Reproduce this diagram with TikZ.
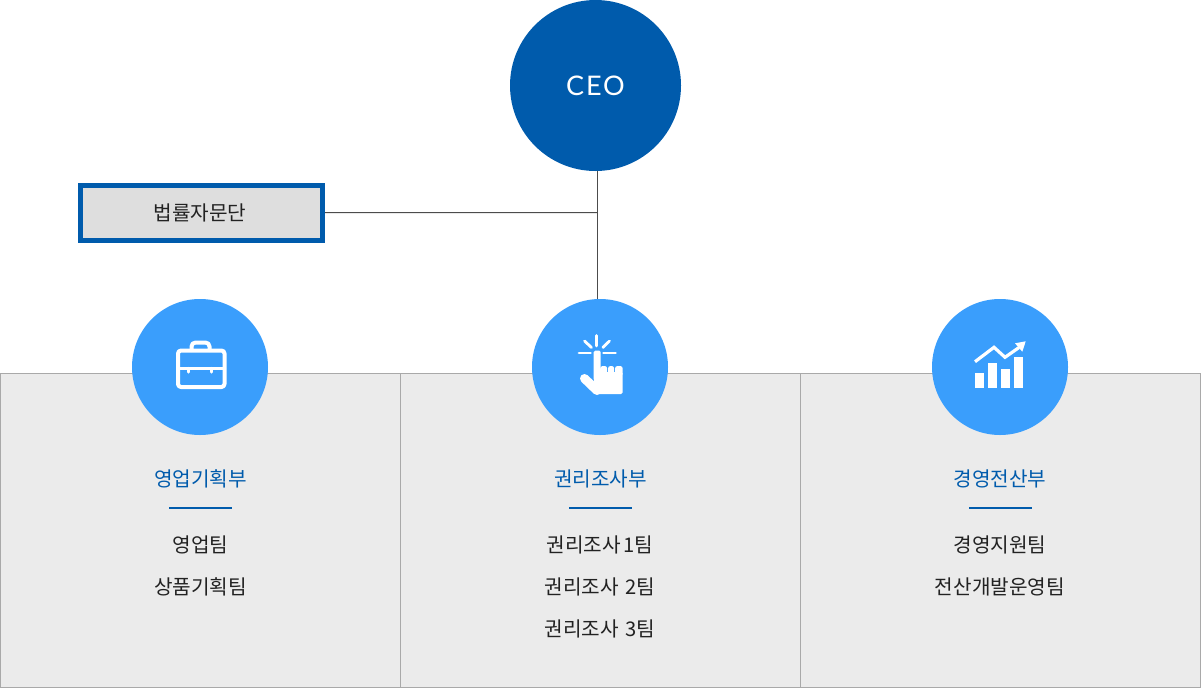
\documentclass[tikz,border=0pt]{standalone}
\usepackage{fontspec}
\setmainfont{Noto Sans CJK KR}
\newfontfamily\ceofont[LetterSpace=7]{Lato}
\definecolor{deepblue}{HTML}{005BAC}
\definecolor{skyblue}{HTML}{3A9EFC}
\definecolor{panelgray}{HTML}{EBEBEB}
\definecolor{boxgray}{HTML}{DEDEDE}
\definecolor{edgegray}{HTML}{A9A9A9}
\definecolor{inkgray}{HTML}{222222}
\tikzset{
  panel/.style={draw=edgegray,fill=panelgray,line width=1pt},
  deptcircle/.style={circle,fill=skyblue,minimum size=136pt,inner sep=0pt},
  depttitle/.style={text=deepblue,font=\fontsize{20.2pt}{24pt}\selectfont,inner sep=0pt},
  teamname/.style={text=inkgray,font=\fontsize{20.2pt}{24pt}\selectfont,inner sep=0pt},
  deptrule/.style={draw=deepblue,line width=2pt},
  conn/.style={draw=black!70,line width=1pt},
  iconline/.style={draw=white,line width=4pt,line cap=round,line join=round},
  rayline/.style={draw=white,line width=2.8pt,line cap=round}
}
\begin{document}
\begin{tikzpicture}[x=1pt,y=-1pt]
\useasboundingbox (0,0) rectangle (1201,688);
\foreach \x in {0,400,800}{
  \draw[panel] (\x+0.5,373.5) rectangle (\x+400.5,687.5);
}
\node[circle,fill=deepblue,minimum size=171pt,inner sep=0pt,text=white,font=\ceofont\fontsize{27pt}{30pt}\selectfont] (ceo) at (595.5,85.5) {CEO};
\node[draw=deepblue,fill=boxgray,line width=5pt,minimum width=242pt,minimum height=55pt,inner sep=0pt,text=inkgray,font=\fontsize{20.2pt}{24pt}\selectfont] (adviser) at (201.5,212.85) {법률자문단\kern3pt};
\node[deptcircle] (sales) at (200,367) {};
\node[deptcircle] (rights) at (600,367) {};
\node[deptcircle] (it) at (1000,367) {};
\coordinate (jct) at (597.5,212.5);
\draw[conn] (jct|-ceo.south) -- (jct|-rights.north);
\draw[conn] (adviser) -- (jct);
\node[depttitle] (salestitle) at (200.5,479) {영업기획부};
\node[depttitle] (rightstitle) at (600.5,479) {권리조사부};
\node[depttitle] (ittitle) at (1000,479) {경영전산부};
\draw[deptrule] (169,508) -- (232,508);
\draw[deptrule] (569,508) -- (632,508);
\draw[deptrule] (969,508) -- (1032,508);
\node[teamname] (team1) at (200.5,545) {영업팀};
\node[teamname] (team2) at (200.5,587) {상품기획팀};
\node[teamname] (team3) at (600,545) {권리조사 \kern-2pt1팀};
\node[teamname] (team4) at (600,587) {권리조사 \kern2pt2팀};
\node[teamname] (team5) at (600,629) {권리조사 \kern2pt3팀};
\node[teamname] (team6) at (1000,545) {경영지원팀};
\node[teamname] (team7) at (1000,587) {전산개발운영팀};
\draw[iconline,rounded corners=3pt] (178,350.5) rectangle (224.5,387);
\draw[iconline,rounded corners=4pt] (191.5,350) -- (191.5,342.5) -- (209.5,342.5) -- (209.5,350);
\draw[iconline,line width=3.4pt] (178,368.5) -- (224.5,368.5);
\draw[iconline,line width=3.4pt] (188.7,368.5) -- (188.7,372);
\draw[iconline,line width=3.4pt] (211.7,368.5) -- (211.7,372);
\draw[rayline] (596.7,335.5) -- (596.7,346);
\draw[rayline] (584.5,341) -- (591.5,347.5);
\draw[rayline] (609.5,341) -- (602.8,347.5);
\draw[rayline] (579,353) -- (590.5,353);
\draw[rayline] (603.5,353) -- (615.5,353);
\fill[white,rounded corners=1.5pt] (593.7,380) -- (593.7,350.7) -- (600.7,350.7) -- (600.7,372) -- (622.7,372) -- (622.7,394) -- (597,394) -- cycle;
\fill[white,rounded corners=2.5pt] (600.2,376) rectangle (607.2,366);
\fill[white,rounded corners=2.5pt] (608,376) rectangle (614.2,366);
\fill[white,rounded corners=2.5pt] (615,376) rectangle (622.7,366);
\draw[white,line width=9pt,line cap=round] (584.5,378.5) -- (597,390.5);
\foreach \x/\y in {975.3/372.7,988.3/362.7,1001/369.3,1014/356.7}{
  \fill[white] (\x,\y) rectangle (\x+9,387.7);
}
\draw[white,line width=3.2pt,line join=miter] (975,361.7) -- (994,347.3) -- (1005,357.3) -- (1019,347.5);
\fill[white] (1025.7,341.3) -- (1015,343.3) -- (1022.3,351.7) -- cycle;
\end{tikzpicture}
\end{document}
